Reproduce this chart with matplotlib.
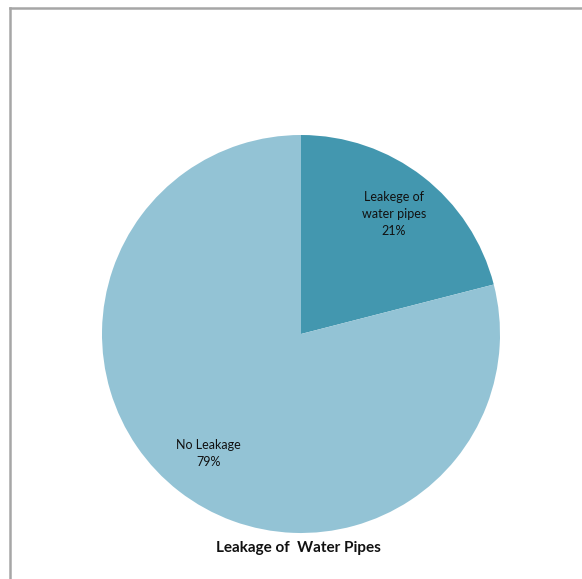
import matplotlib
matplotlib.use('Agg')
import matplotlib.pyplot as plt
from matplotlib.lines import Line2D

# Leakage of water pipes pie chart
labels = ['Leakege of\nwater pipes', 'No Leakage']
values = [21, 79]
colors = ['#4397AF', '#93C3D5']
title = 'Leakage of  Water Pipes'

plt.rcParams['font.family'] = ['Lato', 'DejaVu Sans']

fig = plt.figure(figsize=(5.82, 5.79), dpi=100)

# chart area frame (only top and left edges visible in the crop)
fig.add_artist(Line2D([9.5 / 582, 1], [1 - 8 / 579, 1 - 8 / 579],
                      transform=fig.transFigure, color='#A6A6A6', lw=1.8))
fig.add_artist(Line2D([9.5 / 582, 9.5 / 582], [0, 1 - 8 / 579],
                      transform=fig.transFigure, color='#A6A6A6', lw=1.8))

ax = fig.add_axes([102 / 582, 46 / 579, 398 / 582, 398 / 579])
wedges, texts, autotexts = ax.pie(values, colors=colors, startangle=90,
                                  counterclock=False, autopct='%1.0f%%',
                                  pctdistance=0.76,
                                  textprops={'fontsize': 9, 'color': '#111111'})
for name, t in zip(labels, autotexts):
    t.set_text(name + '\n' + t.get_text())
    t.set_linespacing(1.5)
ax.set_xlim(-1, 1)
ax.set_ylim(-1, 1)
ax.set_aspect('equal')
ax.axis('off')

fig.text(298 / 582, 1 - 548 / 579, title, ha='center', va='center',
         fontsize=11, fontweight='bold', color='#111111')

fig.savefig('out.png', dpi=100)
